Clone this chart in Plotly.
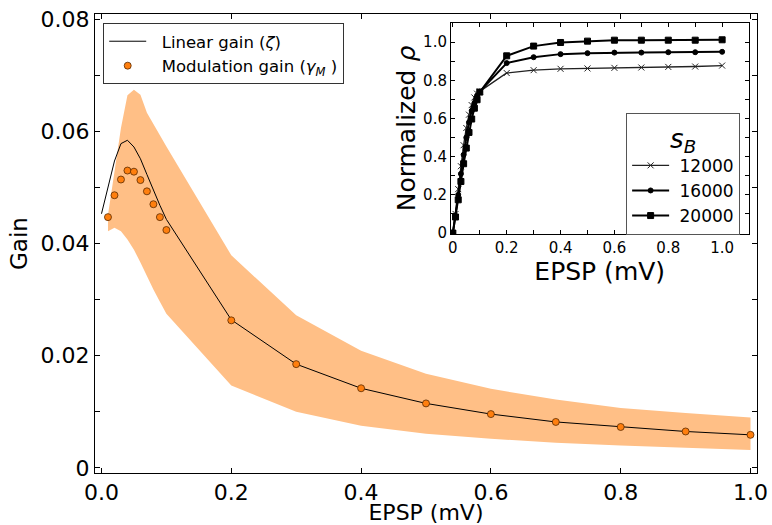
import plotly.graph_objects as go

# ---------------- main panel data ----------------
epsp_line = [0.0, 0.01, 0.02, 0.03, 0.04, 0.05, 0.06, 0.07, 0.08, 0.09, 0.1,
             0.2, 0.3, 0.4, 0.5, 0.6, 0.7, 0.8, 0.9, 1.0]
linear_gain = [0.0453, 0.0502, 0.0547, 0.0578, 0.0584, 0.0572, 0.0551, 0.0523,
               0.0495, 0.0468, 0.0443, 0.0264, 0.0185, 0.0142, 0.0115, 0.0096,
               0.0082, 0.0073, 0.0065, 0.0059]

epsp_pts = [0.01, 0.02, 0.03, 0.04, 0.05, 0.06, 0.07, 0.08, 0.09, 0.1,
            0.2, 0.3, 0.4, 0.5, 0.6, 0.7, 0.8, 0.9, 1.0]
modulation_gain = [0.0447, 0.0486, 0.0514, 0.0530, 0.0528, 0.0513, 0.0493,
                   0.0470, 0.0447, 0.0424, 0.0263, 0.0185, 0.0142, 0.0115,
                   0.0096, 0.0082, 0.0073, 0.0065, 0.0059]
band_upper = [0.0451, 0.0528, 0.0606, 0.0664, 0.0674, 0.0665, 0.0633, 0.0613,
              0.0593, 0.0573, 0.0379, 0.0272, 0.0209, 0.0168, 0.0141, 0.0122,
              0.0107, 0.0098, 0.0090]
band_lower = [0.0422, 0.0428, 0.0422, 0.0407, 0.0389, 0.0366, 0.0342, 0.0318,
              0.0296, 0.0275, 0.0147, 0.0100, 0.0075, 0.0061, 0.0052, 0.0045,
              0.0040, 0.0036, 0.0032]

main_xticks = [0.0, 0.2, 0.4, 0.6, 0.8, 1.0]
main_xticklabels = ["0.0", "0.2", "0.4", "0.6", "0.8", "1.0"]
main_yticks = [0.0, 0.02, 0.04, 0.06, 0.08]
main_yticklabels = ["0", "0.02", "0.04", "0.06", "0.08"]
main_yminor = [0.01, 0.03, 0.05, 0.07]

# ---------------- inset data ----------------
epsp_inset = [0.0, 0.01, 0.02, 0.03, 0.04, 0.05, 0.06, 0.07, 0.08, 0.09, 0.1,
              0.2, 0.3, 0.4, 0.5, 0.6, 0.7, 0.8, 0.9, 1.0]
rho_12000 = [0.0, 0.10, 0.23, 0.35, 0.46, 0.55, 0.62, 0.67, 0.71, 0.73, 0.742,
             0.838, 0.853, 0.860, 0.862, 0.865, 0.867, 0.870, 0.872, 0.877]
rho_16000 = [0.0, 0.09, 0.20, 0.31, 0.41, 0.50, 0.58, 0.64, 0.68, 0.72, 0.741,
             0.890, 0.921, 0.937, 0.942, 0.945, 0.945, 0.947, 0.947, 0.949]
rho_20000 = [0.0, 0.084, 0.174, 0.27, 0.363, 0.445, 0.527, 0.597, 0.654, 0.698,
             0.738, 0.928, 0.979, 0.998, 1.005, 1.010, 1.010, 1.010, 1.010, 1.012]
sB_labels = ["12000", "16000", "20000"]

inset_xticks = [0.0, 0.2, 0.4, 0.6, 0.8, 1.0]
inset_xticklabels = ["0", "0.2", "0.4", "0.6", "0.8", "1.0"]
inset_xminor = [0.1, 0.3, 0.5, 0.7, 0.9]
inset_yticks = [0.0, 0.2, 0.4, 0.6, 0.8, 1.0]
inset_yticklabels = ["0", "0.2", "0.4", "0.6", "0.8", "1.0"]
inset_yminor = [0.1, 0.3, 0.5, 0.7, 0.9]

FONT = "DejaVu Sans"
BAND = "#FFBF86"
ORANGE = "#FF7F0E"
NB = "\u00a0"

fig = go.Figure()

# band
fig.add_trace(go.Scatter(
    x=epsp_pts + epsp_pts[::-1], y=band_upper + band_lower[::-1],
    fill="toself", fillcolor=BAND, mode="none", line=dict(width=0),
    showlegend=False, hoverinfo="skip", xaxis="x", yaxis="y"))

fig.add_trace(go.Scatter(
    x=epsp_line, y=linear_gain, mode="lines",
    line=dict(color="black", width=1),
    name=NB + NB + "Linear gain (<i>ζ</i>)", legend="legend", xaxis="x", yaxis="y"))

fig.add_trace(go.Scatter(
    x=epsp_pts, y=modulation_gain, mode="markers",
    marker=dict(color=ORANGE, size=7, line=dict(color="#5a2a00", width=0.8)),
    name=NB + NB + "Modulation gain (<i>γ</i><sub><i>M</i></sub> )", legend="legend",
    xaxis="x", yaxis="y"))

# inset
inset_series = [
    (rho_12000, "x-thin", 6, 1.4, "#222"),
    (rho_16000, "circle", 5, 2.0, "black"),
    (rho_20000, "square", 6, 2.0, "black"),
]
for (vals, sym, msize, lw, col), lab in zip(inset_series, sB_labels):
    fig.add_trace(go.Scatter(
        x=epsp_inset, y=vals, mode="lines+markers",
        line=dict(color=col, width=lw),
        marker=dict(symbol=sym, size=msize, color=col,
                    line=dict(color=col, width=1)),
        name=NB + lab, legend="legend2", xaxis="x2", yaxis="y2"))

axis_common = dict(showline=True, linecolor="black", linewidth=1, mirror="ticks",
                   ticks="inside", tickcolor="black", showgrid=False,
                   zeroline=False, automargin=False)

fig.update_layout(
    width=772, height=525,
    margin=dict(l=95, r=15, t=14, b=52),
    paper_bgcolor="white", plot_bgcolor="white",
    font=dict(family=FONT, color="black"),
    xaxis=dict(domain=[0, 1], range=[-0.01, 1.01], tickvals=main_xticks,
               ticktext=main_xticklabels, ticklen=5,
               tickfont=dict(size=22), anchor="y",
               title=dict(text="EPSP (mV)", font=dict(size=22), standoff=4),
               **axis_common),
    yaxis=dict(domain=[0, 1], range=[-0.0009, 0.0809], tickvals=main_yticks,
               ticktext=main_yticklabels, ticklen=5,
               minor=dict(tickvals=main_yminor, ticks="inside", ticklen=5,
                          tickcolor="black", showgrid=False),
               tickfont=dict(size=22), anchor="x",
               title=dict(text="Gain", font=dict(size=23), standoff=6),
               **axis_common),
    xaxis2=dict(domain=[0.5377, 0.9872], range=[-0.007, 1.098],
                tickvals=inset_xticks, ticktext=inset_xticklabels, ticklen=4,
                minor=dict(tickvals=inset_xminor, ticks="inside", ticklen=4,
                           tickcolor="black", showgrid=False),
                tickfont=dict(size=15), anchor="y2",
                title=dict(text="EPSP (mV)", font=dict(size=25), standoff=3),
                **axis_common),
    yaxis2=dict(domain=[0.5207, 0.9804], range=[-0.005, 1.1],
                tickvals=inset_yticks, ticktext=inset_yticklabels, ticklen=4,
                minor=dict(tickvals=inset_yminor, ticks="inside", ticklen=4,
                           tickcolor="black", showgrid=False),
                tickfont=dict(size=15), anchor="x2",
                title=dict(text="Normalized <i>ρ</i>", font=dict(size=25), standoff=0),
                **axis_common),
    legend=dict(x=0.0124, y=0.9804, xanchor="left", yanchor="top",
                bgcolor="white", bordercolor="#333", borderwidth=1,
                font=dict(size=16.5), itemwidth=37, tracegroupgap=0),
    legend2=dict(x=0.8023, y=0.7843, xanchor="left", yanchor="top",
                 bgcolor="white", bordercolor="#555", borderwidth=1,
                 font=dict(size=17), itemwidth=37,
                 title=dict(text="<i>s</i><sub><i>B</i></sub>",
                            font=dict(size=26), side="top center")),
    shapes=[dict(type="line", xref="x2 domain", yref="y2", x0=0, x1=1, y0=1, y1=1,
                 line=dict(color="black", width=1, dash="6px,4px"), layer="below")],
)

fig.write_html("out.html")
